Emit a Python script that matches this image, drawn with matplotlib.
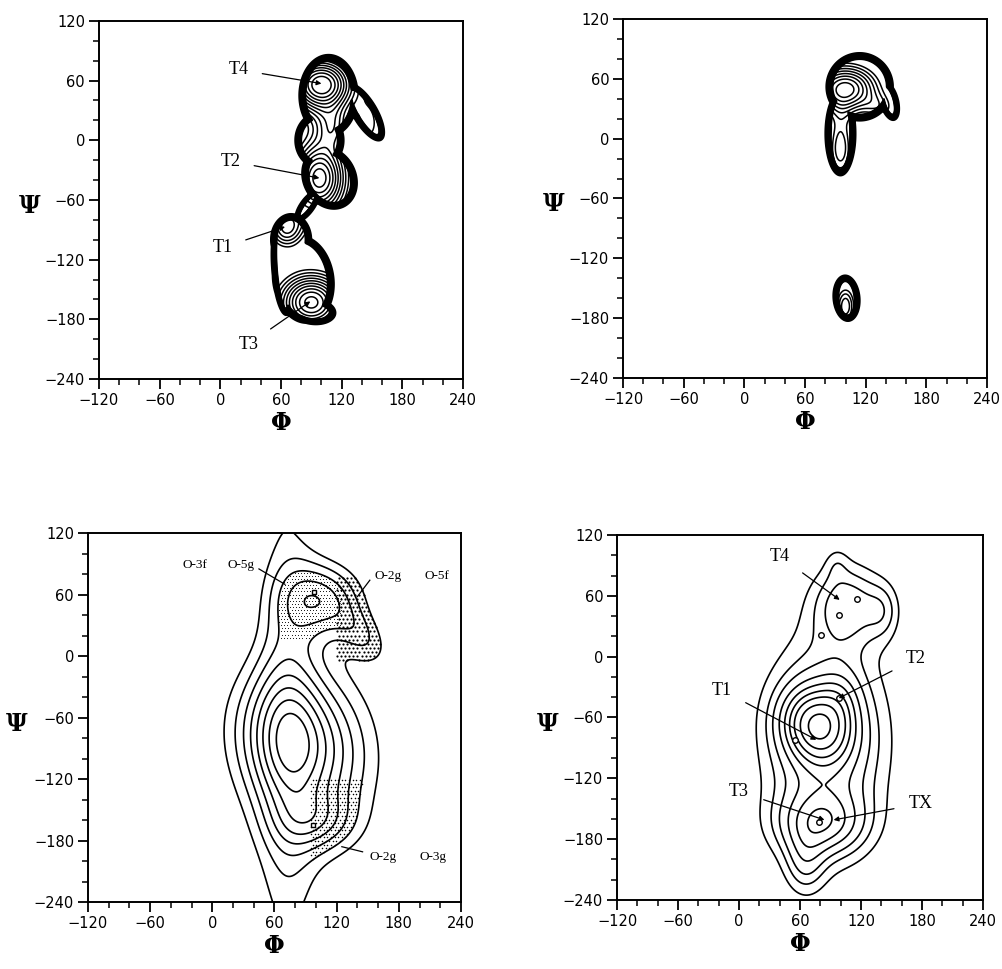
import numpy as np
import matplotlib
matplotlib.use('Agg')
import matplotlib.pyplot as plt
from matplotlib.ticker import MultipleLocator

plt.rcParams['contour.negative_linestyle'] = 'solid'

phi_ticks = [-120, -60, 0, 60, 120, 180, 240]
psi_ticks = [-240, -180, -120, -60, 0, 60, 120]

# ---- panel A (top left): allowed region pieces (ellipses) + minima
a_body_phi = [107, 143, 98, 108, 86, 70, 82, 92, 62]
a_body_psi = [45, 28, 0, -38, -66, -100, -140, -172, -128]
a_body_sx = [29, 12, 24, 26, 7, 20, 30, 22, 11]
a_body_sy = [41, 32, 28, 32, 18, 26, 44, 13, 48]
a_body_tilt = [0, 30, 0, 25, -35, 0, 8, -6, 4]
a_min_phi = [100, 98, 65, 90, 148, 112]
a_min_psi = [56, -38, -88, -163, 15, 12]
a_min_sx = [25, 20, 14, 25, 10, 12]
a_min_sy = [22, 28, 16, 22, 20, 14]
a_min_depth = [1.0, 0.85, 0.55, 0.9, 0.3, 0.3]
a_labels = ['T4', 'T2', 'T1', 'T3']
a_label_xy = [(18, 71), (10, -21), (2, -108), (28, -205)]
a_target_xy = [(100, 57), (98, -38), (64, -87), (89, -162)]

# ---- panel B (top right)
b_body_phi = [114, 143, 95, 101]
b_body_psi = [52, 38, 5, -160]
b_body_sx = [33, 9, 15, 13]
b_body_sy = [34, 20, 42, 23]
b_body_tilt = [0, 15, 0, 5]
b_min_phi = [100, 95, 100, 135]
b_min_psi = [50, -10, -168, 30]
b_min_sx = [24, 10, 8, 12]
b_min_sy = [18, 25, 16, 10]
b_min_depth = [1.0, 0.6, 0.6, 0.3]

# ---- panel C (bottom left)
c_phi = [72, 80, 95, 106, 145, 102]
c_psi = [-60, -82, -100, 56, 20, -162]
c_sx = [22, 38, 55, 28, 14, 26]
c_sy = [230, 48, 78, 26, 24, 20]
c_tilt = [0, 25, 0, 0, 40, 0]
c_depth = [0.36, 0.7, 0.38, 0.65, 0.3, 0.35]
c_text = ['O-3f', 'O-5g', 'O-2g', 'O-5f', 'O-2g', 'O-3g']
c_text_xy = [(-17, 89), (28, 89), (170, 78), (217, 78), (165, -196), (213, -196)]
c_line_from = [None, (45, 85), (152, 74), None, (145, -191), None]
c_line_to = [None, (70, 70), (140, 58), None, (125, -186), None]
c_dots_phi = [98, 97]
c_dots_psi = [62, -165]

# ---- panel D (bottom right)
d_phi = [76, 85, 106, 142, 80, 65, 100, 96]
d_psi = [-68, -85, 52, 45, -165, -205, -40, 92]
d_sx = [22, 40, 24, 12, 30, 14, 14, 8]
d_sy = [25, 70, 28, 20, 22, 22, 20, 12]
d_tilt = [30, 0, 0, 0, 0, 0, 0, 0]
d_depth = [0.7, 0.55, 0.38, 0.2, 0.45, 0.25, 0.15, 0.1]
d_text = ['T4', 'T2', 'T1', 'T3', 'TX']
d_text_xy = [(40, 99), (174, -2), (-17, -33), (0, -133), (179, -145)]
d_target_xy = [(99, 56), (98, -41), (76, -82), (84, -161), (93, -161)]
d_marks_phi = [116, 98, 81, 55, 98, 79]
d_marks_psi = [57, 41, 21, -82, -41, -163]


phi = np.linspace(-120, 240, 361)
psi = np.linspace(-240, 120, 361)
X, Y = np.meshgrid(phi, psi)


def rot(p0, s0, tilt):
    t = np.deg2rad(tilt)
    dx, dy = X - p0, Y - s0
    return dx * np.cos(t) + dy * np.sin(t), -dx * np.sin(t) + dy * np.cos(t)


def ell(p0, s0, sx, sy, tilt):
    u, v = rot(p0, s0, tilt)
    return (u / sx) ** 2 + (v / sy) ** 2


def edge_dist(p0, s0, sx, sy, tilt):
    # approximate signed distance (degrees) to the ellipse edge, negative inside
    u, v = rot(p0, s0, tilt)
    q = (u / sx) ** 2 + (v / sy) ** 2
    g = 2 * np.sqrt((u / sx ** 2) ** 2 + (v / sy ** 2) ** 2) + 1e-6
    return (q - 1) / g


def smooth_map(p, s, sx, sy, t, d):
    return -sum(dd * np.exp(-ell(a, b, c, e, f) / 2) for a, b, c, e, f, dd in zip(p, s, sx, sy, t, d))


def steep_panel(ax, bp, bs, bx, by, bt, mp, ms, mx, my, md, n_inner, top):
    dist = np.min([edge_dist(*w) for w in zip(bp, bs, bx, by, bt)], axis=0)
    ax.contour(X, Y, dist, levels=np.linspace(-7, 0, 10), colors='black', linewidths=1.3)
    inner = smooth_map(mp, ms, mx, my, [0] * len(mp), md)
    inner = np.where(dist < -5.5, inner, np.nan)
    lv = np.linspace(np.nanmin(inner) * 0.93, np.nanmin(inner) * top, n_inner)
    ax.contour(X, Y, inner, levels=np.sort(lv), colors='black', linewidths=1.1)


def stipple(ax, E, level, box, step, size):
    gx, gy = np.meshgrid(np.arange(-120, 240, step), np.arange(-240, 120, step))
    gx = gx + (np.arange(gx.shape[0])[:, None] % 2) * step / 2
    ix = np.clip(np.round(gx + 120).astype(int), 0, 360)
    iy = np.clip(np.round(gy + 240).astype(int), 0, 360)
    keep = (E[iy, ix] < level) & (gx > box[0]) & (gx < box[1]) & (gy > box[2]) & (gy < box[3])
    ax.scatter(gx[keep], gy[keep], s=size, c='black', marker='o', linewidths=0)


def style_axes(ax):
    ax.set_xlim(-120, 240)
    ax.set_ylim(-240, 120)
    ax.set_xticks(phi_ticks)
    ax.set_yticks(psi_ticks)
    ax.xaxis.set_minor_locator(MultipleLocator(20))
    ax.yaxis.set_minor_locator(MultipleLocator(20))
    ax.tick_params(which='major', direction='out', length=7, width=1.3, labelsize=10.5, pad=3)
    ax.tick_params(which='minor', direction='out', length=4, width=1.1)
    for s in ax.spines.values():
        s.set_linewidth(1.4)
    ax.set_xlabel('Φ', fontsize=17, fontweight='bold', family='DejaVu Serif', labelpad=2)
    ax.set_ylabel('Ψ', fontsize=17, fontweight='bold', family='DejaVu Serif', rotation=0)
    ax.yaxis.set_label_coords(-0.19, 0.45)


fig = plt.figure(figsize=(10.02, 9.69), dpi=100)
ax1 = fig.add_axes([0.0988, 0.6089, 0.3633, 0.3695])
ax2 = fig.add_axes([0.6218, 0.6099, 0.3633, 0.3705])
ax3 = fig.add_axes([0.0878, 0.0691, 0.3723, 0.3808])
ax4 = fig.add_axes([0.6158, 0.0712, 0.3653, 0.3767])

serif = 'Liberation Serif'

# panel A
steep_panel(ax1, a_body_phi, a_body_psi, a_body_sx, a_body_sy, a_body_tilt,
            a_min_phi, a_min_psi, a_min_sx, a_min_sy, a_min_depth, 11, 0.3)
for lab, xy, tg in zip(a_labels, a_label_xy, a_target_xy):
    ax1.annotate(lab, xy=tg, xytext=xy, fontsize=13, family=serif, ha='center', va='center',
                 arrowprops=dict(arrowstyle='-|>', color='black', lw=0.9, mutation_scale=7,
                                 shrinkA=8, shrinkB=0))
style_axes(ax1)

# panel B
steep_panel(ax2, b_body_phi, b_body_psi, b_body_sx, b_body_sy, b_body_tilt,
            b_min_phi, b_min_psi, b_min_sx, b_min_sy, b_min_depth, 8, 0.35)
style_axes(ax2)

# panel C
Ec = smooth_map(c_phi, c_psi, c_sx, c_sy, c_tilt, c_depth)
lv = Ec.min() * np.array([0.2, 0.3, 0.4, 0.5, 0.6, 0.7, 0.8, 0.9])
ax3.contour(X, Y, Ec, levels=np.sort(lv), colors='black', linewidths=1.2)
stipple(ax3, Ec, lv[2], (40, 125, 15, 110), 3, 0.6)
stipple(ax3, Ec, lv[0], (118, 170, -8, 80), 4, 2.5)
stipple(ax3, Ec, lv[1], (95, 160, -200, -118), 3.5, 1.2)
ax3.plot(c_dots_phi, c_dots_psi, 's', ms=3.5, mfc='white', mec='black', mew=1)
for t, xy, a, b in zip(c_text, c_text_xy, c_line_from, c_line_to):
    ax3.text(xy[0], xy[1], t, fontsize=9.5, family=serif, ha='center', va='center')
    if a is not None:
        ax3.plot([a[0], b[0]], [a[1], b[1]], color='black', lw=0.9)
style_axes(ax3)

# panel D
Ed = smooth_map(d_phi, d_psi, d_sx, d_sy, d_tilt, d_depth)
lv = Ed.min() * np.array([0.12, 0.2, 0.28, 0.38, 0.48, 0.58, 0.68, 0.8, 0.93])
ax4.contour(X, Y, Ed, levels=np.sort(lv), colors='black', linewidths=1.2)
ax4.plot(d_marks_phi, d_marks_psi, 'o', ms=4, mfc='white', mec='black', mew=1)
for lab, xy, tg in zip(d_text, d_text_xy, d_target_xy):
    ax4.annotate(lab, xy=tg, xytext=xy, fontsize=13, family=serif, ha='center', va='center',
                 arrowprops=dict(arrowstyle='-|>', color='black', lw=0.9, mutation_scale=7,
                                 shrinkA=9, shrinkB=0))
style_axes(ax4)

fig.savefig('out.png', dpi=100)
